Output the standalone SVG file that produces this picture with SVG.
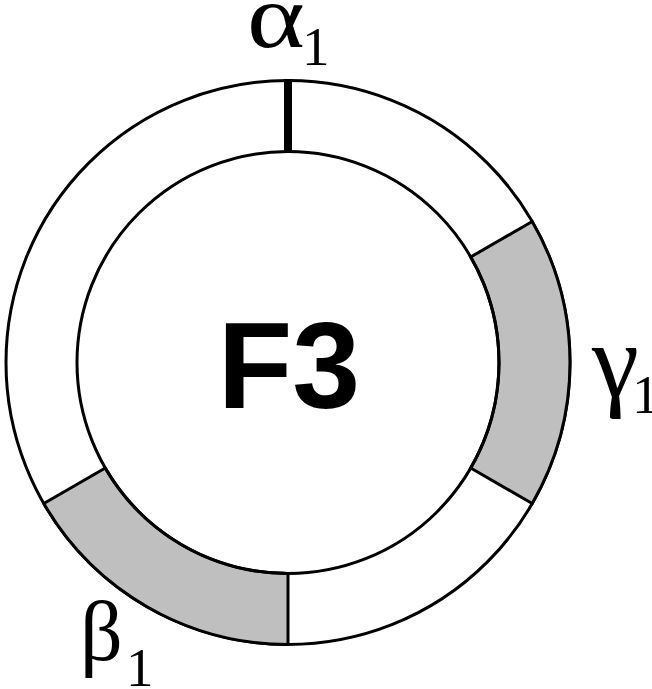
<svg xmlns="http://www.w3.org/2000/svg" width="652" height="689" viewBox="0 0 652 689">
<style>
.ring{fill:none;stroke:#000;stroke-width:3}
.seg{fill:#bfbfbf;stroke:#000;stroke-width:3;stroke-linejoin:miter}
.lbl{font-family:"Liberation Serif","Times New Roman",serif;fill:#000}
.sub{font-family:"Liberation Serif","Times New Roman",serif;font-size:55px;fill:#000}
.big{font-family:"Liberation Sans",Arial,sans-serif;font-weight:bold;font-size:122px;fill:#000}
</style>
<rect width="652" height="689" fill="#fff"/>
<g id="ring">
<circle class="ring" cx="288" cy="362.5" r="282" fill="#fff"/>
<path id="gamma-seg" class="seg" d="M532.2 221.5 A282 282 0 0 1 532.2 503.5 L470.7 468 A211 211 0 0 0 470.7 257 Z"/>
<path id="beta-seg" class="seg" d="M43.8 503.5 A282 282 0 0 0 288 644.5 L288 573.5 A211 211 0 0 1 105.3 468 Z"/>
<circle class="ring" cx="288" cy="362.5" r="211"/>
</g>
<g id="connectors">
<line x1="288" y1="79" x2="288" y2="153" stroke="#000" stroke-width="8"/>
</g>
<g id="center"><text class="big" x="289" y="408" text-anchor="middle">F3</text></g>
<g id="alpha">
<text class="lbl" font-size="92" transform="translate(247,47) scale(1.2,1)">α</text>
<text class="sub" x="302" y="65">1</text>
</g>
<g id="gamma">
<text class="lbl" font-size="106" x="592" y="396">γ</text>
<text class="sub" x="632" y="413">1</text>
</g>
<g id="beta">
<text class="lbl" font-size="84" x="80" y="660">β</text>
<text class="sub" x="126" y="686">1</text>
</g>
</svg>
